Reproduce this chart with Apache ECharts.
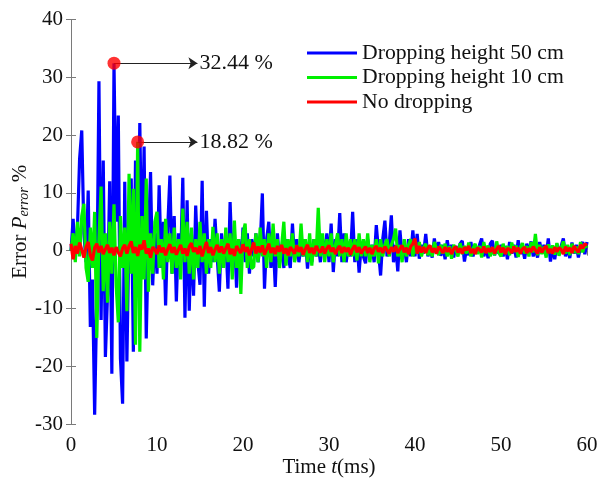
<!DOCTYPE html>
<html>
<head>
<meta charset="utf-8">
<script src="https://cdn.jsdelivr.net/npm/echarts@6/dist/echarts.min.js"></script>
<style>html,body{margin:0;padding:0;background:#fff}#c{width:601px;height:480px}</style>
</head>
<body>
<div id="c"></div>
<script>
// sampling step of the recorded signals (ms)
const dt = 0.25;
const seriesNames = ['Dropping height 50 cm', 'Dropping height 10 cm', 'No dropping'];
const xTicks = [0, 10, 20, 30, 40, 50, 60];
const yTicks = [-30, -20, -10, 0, 10, 20, 30, 40];

// Dropping height 50 cm (one row = 1 ms, 4 samples)
const blue50 = [
 0, 5.5, -1.5, 4,
 15.9, 20.8, 3, -2,
 10.4, -13.2, -5, -28.4,
 -8, 29.3, -12, 15.6,
 -18.4, -7.5, 12, -21.3,
 32.44, 5, 23.4, -18.7,
 -26.5, 11.9, -19.2, 4,
 12.5, -17.5, 15.6, -5,
 22.1, -3, 18, -15.2,
 2, 13.6, -6, 3,
 -4, 11.3, -3, 5,
 -9.5, 4, 13, -4,
 6, -8.8, 3, -2,
 12.6, -11.6, 8.7, -10.4,
 3, -7.8, 7.8, -2,
 -5.9, 12.1, -9.7, 6.9,
 -4, 2, -2, 5.5,
 -1, -7.1, 3, -1,
 2, -6.6, 8.4, -2,
 3, -6.4, 2, -3,
 4, -2, 3, -4,
 2, -1, 3, -2,
 1, 9.9, -6.6, 2,
 5, -3, 2, -6.3,
 3, -2, 1, -3,
 2, -1, -3, 4.7,
 -1.7, 2, -2, 1,
 -1, 2, -3.1, 1,
 -2, 2, -1, 1,
 -2, 2, -1, 3,
 -2, 4.7, -3.7, 2,
 -1, 6.5, -2, 3,
 -2, 1, -1, 6.7,
 -2, 2, -3.8, 1,
 -1, -2.2, 2, -1,
 1, -2, 4.4, 0,
 -4.3, 2, 5.2, -1,
 1, 6.1, -2, 1,
 -3.6, 3.5, -1, 1,
 -2, 2, -1, 3.5,
 -1, 2.9, -1.4, 1,
 -0.5, 2.9, -1, 0.5,
 -1.2, 2.1, -0.5, 1.5,
 -0.9, 1, -1.5, 1.8,
 -0.5, 1, -1.2, 0.8,
 -0.5, 1.2, 1.7, -1.9,
 0.5, -0.8, 1.5, -1,
 0.8, -0.5, 1, 2.1,
 -1, 0.5, -1.3, 1.2,
 1.7, -0.8, 0.6, -0.5,
 1, -1, 0.8, -1.5,
 1.5, -0.5, 1, -1.2,
 1.8, -0.6, 0.5, -1.4,
 1.2, -0.5, 1.6, -1,
 0.4, -1.2, 1.5, -0.5,
 1, -0.8, 2.1, -1.9,
 0.5, -1.5, 1.2, -0.6,
 0.8, 2.1, -1, 0.5,
 -1.3, 1.4, -0.5, 1,
 -1.2, 0.8, 1.5, -0.6,
 1.5
];

// Dropping height 10 cm
const green10 = [
 0, 3, -2, 5,
 -1, 6, 8.1, -3,
 -5.4, 4, -3, 6.7,
 -15.1, 2, 11.1, -7,
 3, -9, 5, -4,
 8, -6, -12.4, 6,
 -3, 4, -10.5, 13.3,
 -4, 10.7, -16.3, 18.82,
 -17.5, 6, -5, 12.5,
 -7.1, 3, -4, 5,
 6.7, -3, 2, -5,
 5.5, -2, 3, -4,
 4, -3, 2, -5,
 7.3, -2, 5, -4,
 4, -5, 2, -3,
 5, -2, 3, -4,
 2, -3, 4.1, -2,
 3, -4, 2, -3,
 4, -2, 3, -5,
 5.2, -3, 2, -7.5,
 3, 4.7, -3, 2,
 -3.1, -2.8, 3, -2,
 4, -1, 2, -3,
 3, -2, 4.7, -1,
 2, -3, 1, 5,
 -2.6, 2, -1, 3,
 -2, 1, -1, 4.7,
 -1, 2, -2, 3,
 -2.6, 2, -1, 7.4,
 -1, 3, -2, 2,
 -1, 3, -2, 1,
 3, -1, 2, -2,
 3, -1, 2, -1,
 2, -1.7, 3, -1,
 2, -1, 3, -2,
 1, -1, 2, -2.2,
 2, -1, 1, 2,
 -1, 1, 2, 3.8,
 -1, 1, -2, 2,
 -1, 1, 2, -1,
 1, -0.5, 1.5, -1,
 0.5, 1.2, -0.8, 0.6,
 -1, 1.5, 0.3, -0.8,
 1, -0.5, 1.2, -1,
 0.8, -1.4, 1, 0.2,
 -1, 1.3, -0.6, 0.8,
 -0.5, 1.4, -1, 0.4,
 1.2, -0.6, 0.8, -1.2,
 1.5, -0.3, 0.9, -1,
 0.5, -0.8, 1.6, -0.4,
 -1, 1.2, -0.5, 0.8,
 -0.8, 1.4, -0.2, 0.9,
 -1.1, 0.6, 1.3, -0.5,
 0.8, -1, 1.5, -0.3,
 2.9, -0.8, 1, -0.6,
 0.7, -1.2, 1.1, -0.4,
 0.9, -0.7, 1.3, -0.9,
 0.4, 1.6, -0.5, 1,
 -0.8, 1.2, -0.4, 0.7,
 -0.6, 1.5, -0.3, 1.1,
 0.5
];

// No dropping
const redNone = [
 1.2, -1.5, 0.8, -0.5,
 1.4, 0.2, -1.2, 0.6,
 1.5, -0.8, -1.7, 0.5,
 1.2, -0.3, 0.8, -0.6,
 0.3, 1.0, -0.4, 0.5,
 -0.8, 0.6, -0.3, -1.0,
 0.4, 1.0, -0.5, 0.8,
 1.6, -0.4, 0.6, -0.9,
 1.0, 0.2, 1.8, -0.5,
 0.4, -1.2, 0.6, 0.2,
 -0.6, 0.9, -0.3, 0.5,
 -0.8, 0.3, 1.1, -0.4,
 0.6, -0.7, 0.2, 1.0,
 -0.5, 0.4, -0.9, 0.7,
 1.3, -0.2, 0.5, -0.6,
 0.8, -1.0, 0.3, 1.5,
 -0.4, 0.6, -0.8, 0.2,
 1.0, -0.3, 0.7, -0.5,
 0.4, 1.2, -0.6, 0.3,
 -0.9, 0.8, 0.1, -0.4,
 1.1, -0.2, 0.6, -0.8,
 0.3, 1.4, -0.5, 0.7,
 -0.3, 0.9, -0.7, 0.2,
 1.2, -0.4, 0.5, -0.6,
 0.8, -0.2, 1.0, -0.5,
 0.4, -0.8, 0.6, 0.1,
 -0.5, 0.9, -0.2, 0.6,
 -0.7, 0.3, 1.0, -0.4,
 0.5, -0.6, 0.8, 0.1,
 -0.3, 0.7, -0.5, 0.4,
 0.9, -0.2, 0.5, -0.6,
 0.3, 0.8, -0.4, 0.6,
 -0.2, 0.5, -0.7, 0.3,
 0.9, -0.3, 0.6, -0.5,
 0.2, 0.7, -0.4, 0.5,
 -0.6, 0.4, 0.8, -0.2,
 0.5, -0.4, 0.7, 0.1,
 -0.5, 0.6, -0.2, 0.8,
 -0.4, 0.3, 0.9, -0.3,
 0.5, -0.6, 0.7, 1.2,
 2.1, -0.5, 0.8, -0.3,
 0.6, -0.4, 0.5, 0.9,
 -0.3, 0.4, -0.5, 0.7,
 0.2, -0.4, 0.6, -0.2,
 0.5, -0.6, 0.3, 0.7,
 -0.3, 0.4, -0.5, 0.6,
 0.1, 0.8, -0.4, 0.3,
 -0.6, 0.5, 0.2, -0.3,
 0.7, -0.4, 0.4, -0.2,
 0.6, -0.5, 0.3, 0.8,
 -0.3, 0.5, -0.6, 0.4,
 0.2, -0.4, 0.7, -0.2,
 0.5, -0.5, 0.3, 0.6,
 -0.4, 0.4, -0.2, 0.7,
 0.1, -0.5, 0.6, -0.3,
 0.4, 0.8, -0.4, 0.3,
 -0.5, 0.6, -0.2, 0.5,
 0.2, -0.6, 0.7, -0.1,
 0.5, -0.4, 0.8, 0.2,
 -0.3, 1.0, 0.4, 1.2,
 0.9
];

// annotated maxima
const peakTimes = [5, 7.75];
const peakValues = [32.44, 18.82];
const peakLabels = ['32.44 %', '18.82 %'];
const arrowEndTime = 14.7;

const FONT = '"Liberation Serif", "Times New Roman", serif';
const toPairs = arr => arr.map((v, i) => [i * dt, v]);

const chart = echarts.init(document.getElementById('c'), null, {renderer: 'canvas'});
const axisLineStyle = {color: '#7a7a7a', width: 1};
const colors = ['#0000ff', '#00f000', '#ff0000'];
const dataSets = [blue50, green10, redNone];

const lineSeries = dataSets.map((d, k) => ({
  name: seriesNames[k],
  type: 'line',
  data: toPairs(d),
  showSymbol: false,
  symbol: 'none',
  lineStyle: {color: colors[k], width: 3.2},
  itemStyle: {color: colors[k]},
  z: 2 + k,
  animation: false
}));

const option = {
  animation: false,
  grid: {left: 71, right: 14, top: 19.5, bottom: 56, outerBoundsMode: 'none', containLabel: false},
  legend: {
    data: seriesNames,
    orient: 'vertical',
    left: 307,
    top: 42,
    padding: 0,
    icon: 'rect',
    itemWidth: 50,
    itemHeight: 3,
    itemGap: 2.5,
    textStyle: {fontFamily: FONT, fontSize: 21.7, color: '#111'}
  },
  xAxis: [{
    type: 'value', min: 0, max: 60, interval: 10,
    name: '{n|Time }{i|t}{n|(ms)}', nameLocation: 'middle', nameGap: 33, nameMoveOverlap: false,
    nameTextStyle: {rich: {n: {fontFamily: FONT, fontSize: 21, color: '#111'}, i: {fontFamily: FONT, fontSize: 21, fontStyle: 'italic', color: '#111'}}},
    axisLine: {lineStyle: axisLineStyle},
    axisTick: {inside: true, length: 5, lineStyle: axisLineStyle},
    axisLabel: {fontFamily: FONT, fontSize: 21, color: '#111', margin: 11,
      formatter: v => xTicks.includes(v) ? String(v) : ''},
    splitLine: {show: false}
  }, {
    type: 'value', min: 0, max: 60, interval: 10, position: 'top',
    axisLine: {lineStyle: axisLineStyle},
    axisTick: {inside: true, length: 5, lineStyle: axisLineStyle},
    axisLabel: {show: false}, splitLine: {show: false}
  }],
  yAxis: [{
    type: 'value', min: -30, max: 40, interval: 10,
    name: '{n|Error }{i|P}{s|error}{n| %}', nameLocation: 'middle', nameGap: 40, nameMoveOverlap: false,
    nameTextStyle: {rich: {
      n: {fontFamily: FONT, fontSize: 21, color: '#111'},
      i: {fontFamily: FONT, fontSize: 21, fontStyle: 'italic', color: '#111'},
      s: {fontFamily: FONT, fontSize: 14, fontStyle: 'italic', color: '#111', padding: [8, 0, 0, 0]}
    }},
    axisLine: {lineStyle: axisLineStyle},
    axisTick: {inside: true, length: 5, lineStyle: axisLineStyle},
    axisLabel: {fontFamily: FONT, fontSize: 21, color: '#111', margin: 8,
      formatter: v => yTicks.includes(v) ? String(v) : ''},
    splitLine: {show: false}
  }, {
    type: 'value', min: -30, max: 40, interval: 10, position: 'right',
    axisLine: {lineStyle: axisLineStyle},
    axisTick: {inside: true, length: 5, lineStyle: axisLineStyle},
    axisLabel: {show: false}, splitLine: {show: false}
  }],
  series: lineSeries.concat([{
    type: 'scatter',
    data: peakTimes.map((t, i) => [t, peakValues[i]]),
    symbolSize: 13,
    itemStyle: {color: '#ff0000'},
    z: 10,
    markLine: {
      silent: true,
      symbol: ['none', 'arrow'],
      symbolSize: 9,
      lineStyle: {color: '#222', width: 1, type: 'solid'},
      label: {show: true, position: 'end', distance: 2, fontFamily: FONT, fontSize: 22, color: '#111',
        formatter: p => p.data.labelText},
      data: peakTimes.map((t, i) => [
        {coord: [t, peakValues[i]], labelText: peakLabels[i]},
        {coord: [arrowEndTime, peakValues[i]]}
      ])
    }
  }])
};
chart.setOption(option);
</script>
</body>
</html>
